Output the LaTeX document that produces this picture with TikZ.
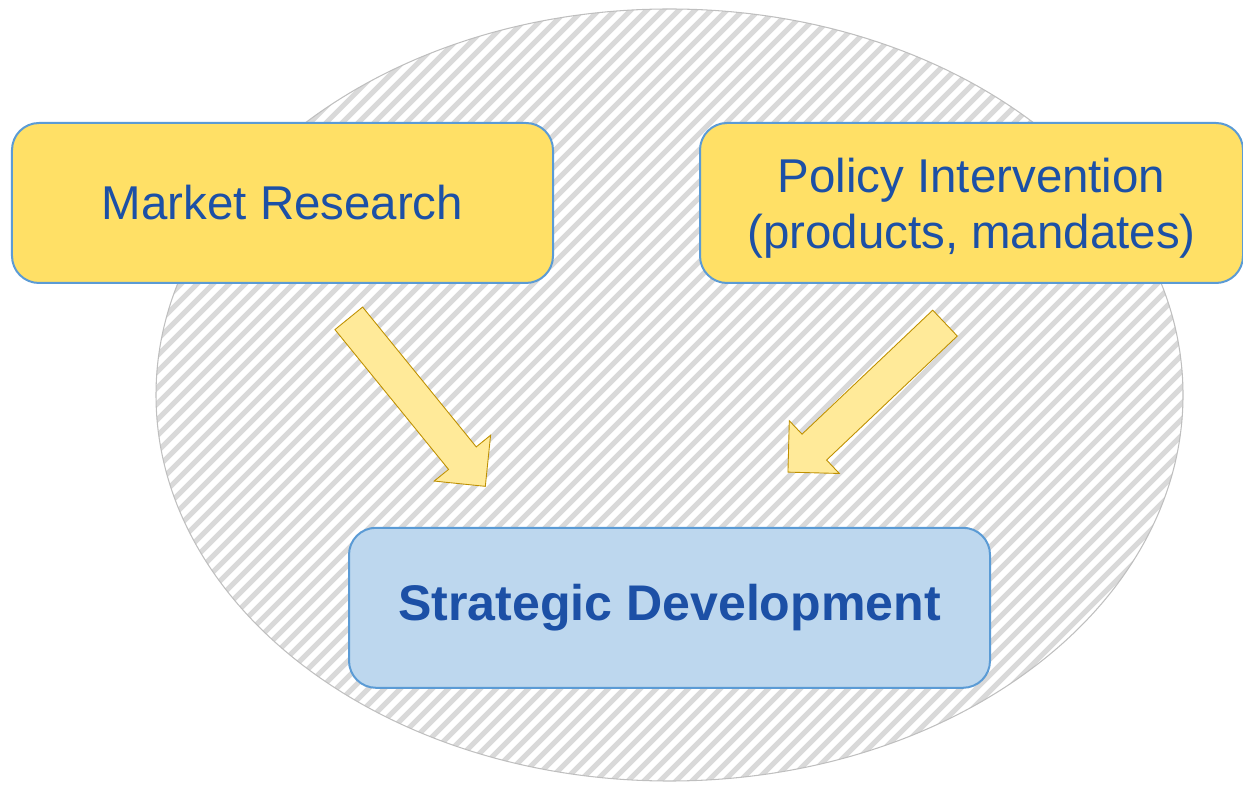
\documentclass[tikz,border=0pt]{standalone}
\usepackage{fontspec}
\setmainfont{Liberation Sans}
\usetikzlibrary{positioning,shapes.arrows}
\definecolor{BoxYellow}{HTML}{FFE066}
\definecolor{BoxBlue}{HTML}{BDD7EE}
\definecolor{Edge}{HTML}{5B9BD5}
\definecolor{Ink}{HTML}{1C50A6}
\definecolor{ArrowFill}{HTML}{FFEA99}
\definecolor{ArrowEdge}{HTML}{BF9000}
\definecolor{Hatch}{HTML}{D9D9D9}
\definecolor{Rim}{HTML}{BFBFBF}

\begin{document}
\begin{tikzpicture}[font=\fontsize{27}{32}\selectfont]
  \tikzstyle{card}=[draw=Edge,line width=0.04cm,rounded corners=0.54cm,minimum height=3.2cm,align=center,text=Ink]
  \tikzstyle{push}=[single arrow,draw=ArrowEdge,fill=ArrowFill,line width=0.5pt,minimum height=4.33cm,single arrow head extend=0.37cm,inner xsep=0pt,inner ysep=0.348cm,anchor=tail]
  \useasboundingbox (0,0) rectangle (24.86,15.7);
  % striped oval behind everything
  \begin{scope}
    \clip (13.39,7.80) ellipse [x radius=10.27cm,y radius=7.72cm];
    \foreach \c in {-24,-23.68,...,13}
      \draw[Hatch,line width=0.1cm] (0,\c) -- ++(26,26);
  \end{scope}
  \draw[Rim,line width=0.6pt] (13.39,7.80) ellipse [x radius=10.27cm,y radius=7.72cm];
  \node[card,fill=BoxYellow,minimum width=10.82cm] (market) at (5.65,11.64) {Market Research};
  \node[card,fill=BoxYellow,minimum width=10.86cm,right=2.9cm of market] (policy) {\rule{0pt}{0.9cm}Policy Intervention\\(products, mandates)};
  \node[card,fill=BoxBlue,minimum width=12.82cm,font=\fontsize{28.5}{34}\selectfont\bfseries] (strategy) at (13.39,3.544) {Strategic Development};
  \node[push,rotate=-50.9] (market arrow) at (6.97,9.34) {};
  \node[push,rotate=-136.5] (policy arrow) at (18.906,9.244) {};
\end{tikzpicture}
\end{document}
